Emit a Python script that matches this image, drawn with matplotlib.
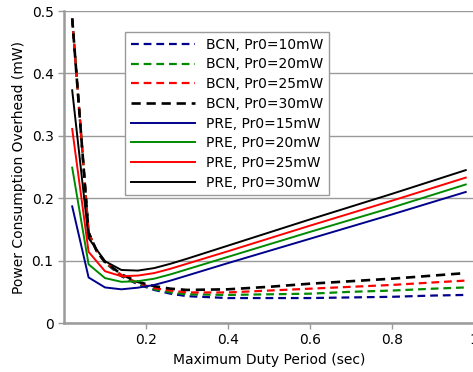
import matplotlib
matplotlib.use("Agg")
import matplotlib.pyplot as plt

# x positions (Maximum Duty Period, sec)
x_pre = [0.02, 0.06, 0.10, 0.14, 0.18, 0.22, 0.26, 0.30, 0.40, 0.60, 0.80, 0.98]
x_bcn = [0.02, 0.06, 0.08, 0.10, 0.14, 0.18, 0.22, 0.26, 0.30, 0.40, 0.50, 0.60, 0.70, 0.80, 0.90, 0.98]

# BCN (dashed)
bcn10 = [0.488, 0.145, 0.115, 0.097, 0.075, 0.062, 0.053, 0.047, 0.043, 0.040, 0.040, 0.040, 0.041, 0.042, 0.044, 0.045]
bcn20 = [0.488, 0.145, 0.115, 0.097, 0.076, 0.063, 0.054, 0.049, 0.046, 0.045, 0.046, 0.047, 0.050, 0.052, 0.055, 0.057]
bcn25 = [0.488, 0.145, 0.115, 0.098, 0.077, 0.064, 0.056, 0.052, 0.049, 0.049, 0.052, 0.055, 0.058, 0.061, 0.065, 0.068]
bcn30 = [0.488, 0.145, 0.115, 0.098, 0.078, 0.066, 0.059, 0.055, 0.053, 0.054, 0.058, 0.063, 0.067, 0.071, 0.076, 0.080]

# PRE (solid)
pre15 = [0.187, 0.073, 0.057, 0.054, 0.0566, 0.061, 0.068, 0.076, 0.096, 0.135, 0.174, 0.210]
pre20 = [0.249, 0.094, 0.072, 0.066, 0.067, 0.071, 0.078, 0.086, 0.106, 0.146, 0.185, 0.222]
pre25 = [0.311, 0.114, 0.083, 0.075, 0.076, 0.080, 0.087, 0.095, 0.115, 0.156, 0.196, 0.233]
pre30 = [0.373, 0.136, 0.099, 0.085, 0.084, 0.088, 0.095, 0.103, 0.124, 0.166, 0.207, 0.245]

blue, green, red, black = "#00008b", "#008a00", "#ff0000", "#000000"

plt.rcParams["font.family"] = "DejaVu Sans"
plt.rcParams["font.size"] = 10

fig = plt.figure(figsize=(4.73, 3.72), dpi=100)
ax = fig.add_axes([0.1353, 0.1317, 0.8667, 0.8387])

dash = (0, (3.5, 2.2))
ax.plot(x_bcn, bcn10, color=blue, lw=1.6, ls=dash, label="BCN, Pr0=10mW")
ax.plot(x_bcn, bcn20, color=green, lw=1.6, ls=dash, label="BCN, Pr0=20mW")
ax.plot(x_bcn, bcn25, color=red, lw=1.6, ls=dash, label="BCN, Pr0=25mW")
ax.plot(x_bcn, bcn30, color=black, lw=1.9, ls=dash, label="BCN, Pr0=30mW")
ax.plot(x_pre, pre15, color=blue, lw=1.4, label="PRE, Pr0=15mW")
ax.plot(x_pre, pre20, color=green, lw=1.4, label="PRE, Pr0=20mW")
ax.plot(x_pre, pre25, color=red, lw=1.4, label="PRE, Pr0=25mW")
ax.plot(x_pre, pre30, color=black, lw=1.4, label="PRE, Pr0=30mW")

ax.set_xlim(0, 1)
ax.set_ylim(0, 0.5)
ax.set_xticks([0.2, 0.4, 0.6, 0.8, 1.0])
ax.set_xticklabels(["0.2", "0.4", "0.6", "0.8", "1"])
ax.set_yticks([0, 0.1, 0.2, 0.3, 0.4, 0.5])
ax.set_yticklabels(["0", "0.1", "0.2", "0.3", "0.4", "0.5"])
ax.yaxis.grid(True, color="#9a9a9a", lw=1)
ax.set_axisbelow(True)
for s in ["top", "right"]:
    ax.spines[s].set_visible(False)
for s in ["left", "bottom"]:
    ax.spines[s].set_color("#9a9a9a")
    ax.spines[s].set_linewidth(1.8)
ax.tick_params(colors="#9a9a9a", labelcolor="black", length=4, width=1)

ax.set_xlabel("Maximum Duty Period (sec)", labelpad=4)
ax.set_ylabel("Power Consumption Overhead (mW)", labelpad=4)

leg = ax.legend(loc="upper left", bbox_to_anchor=(0.15, 0.932), borderaxespad=0,
                fancybox=False, framealpha=1, edgecolor="#9a9a9a",
                handlelength=4.6, labelspacing=0.41, handletextpad=0.8,
                borderpad=0.4)
leg.get_frame().set_linewidth(1)

fig.savefig("out.png", dpi=100)
